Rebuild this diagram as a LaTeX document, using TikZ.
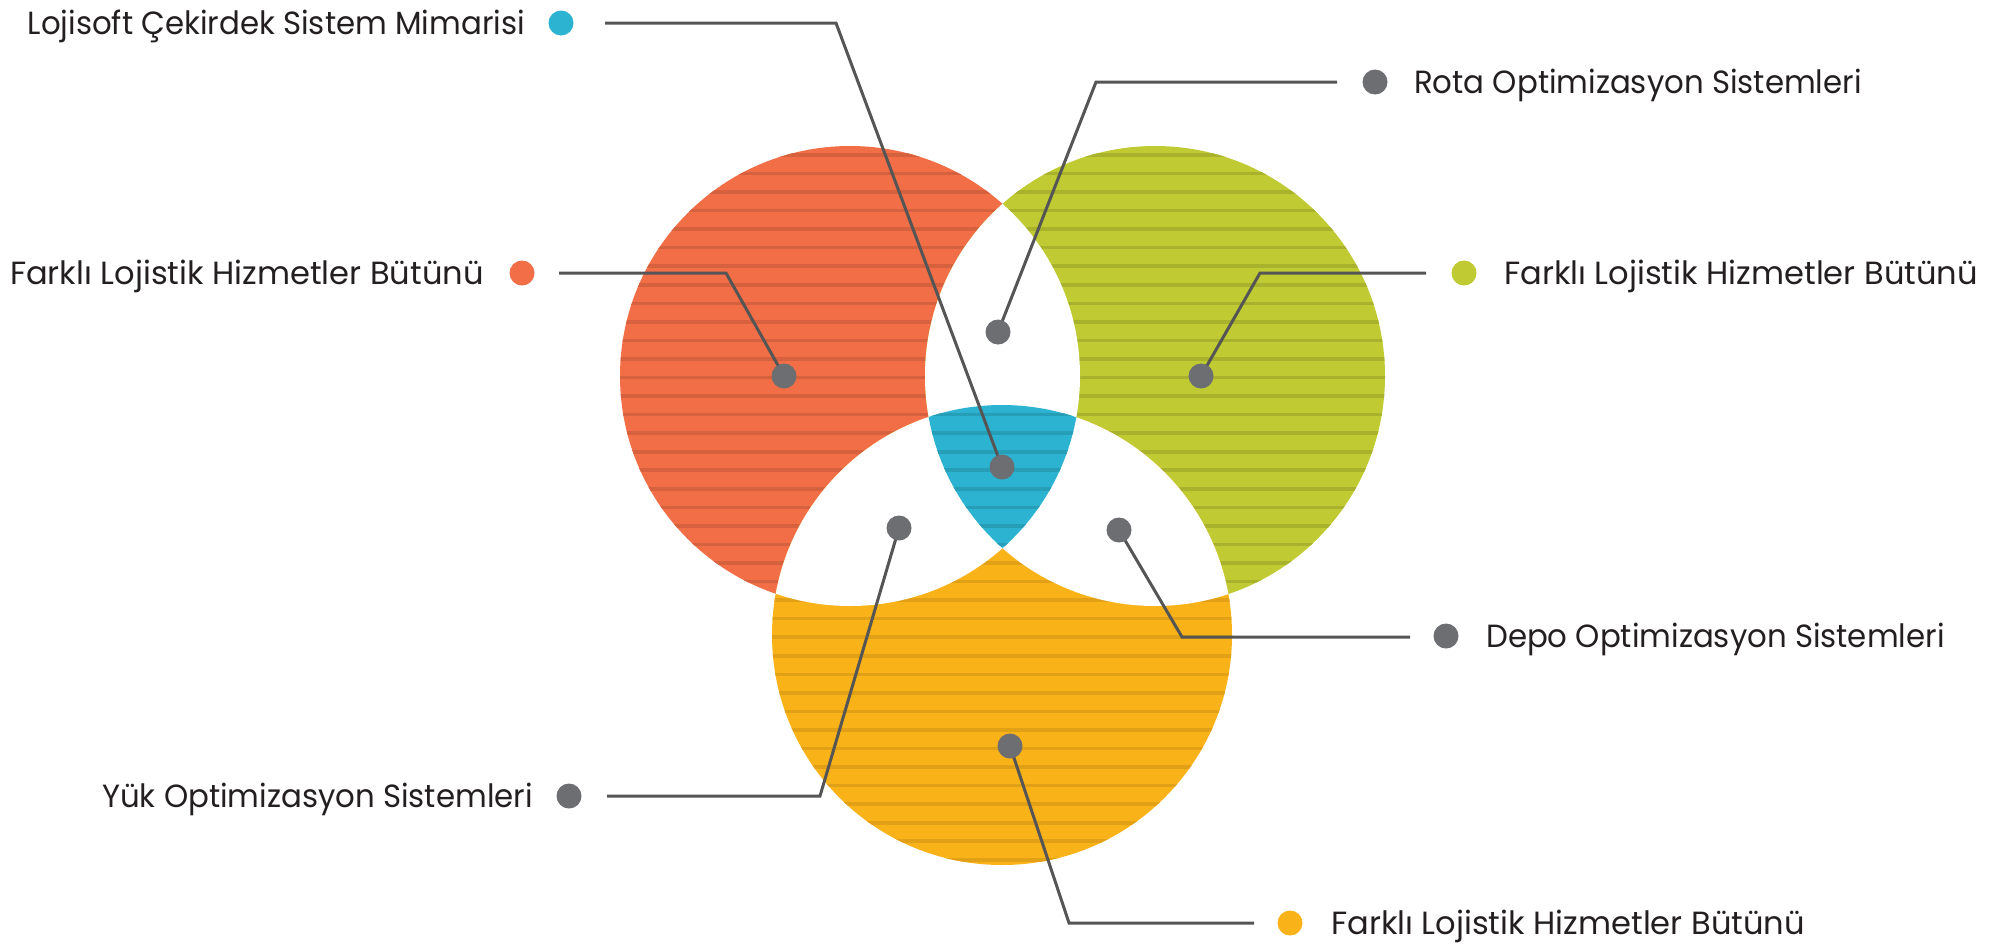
\documentclass[tikz,border=0pt]{standalone}
\usepackage{fontspec}
\setmainfont{Poppins}
\definecolor{cred}{HTML}{F26E47}
\definecolor{cgreen}{HTML}{C0CA33}
\definecolor{cyellow}{HTML}{FAB219}
\definecolor{cblue}{HTML}{2BB3D1}
\definecolor{cdot}{HTML}{6D6E72}
\definecolor{cline}{HTML}{555555}
\definecolor{ctext}{HTML}{231F20}
\pgfdeclarelayer{fg}
\pgfsetlayers{main,fg}
\newcommand\mystripes[1]{\foreach \k in {-25,...,20}{\fill[#1] (0,{563+18.55*\k-1.8}) rectangle (2000,{563+18.55*\k+1.8});}}
\newcommand\narrowtxt[1]{\scalebox{0.96}[1]{#1}}
\begin{document}
\begin{tikzpicture}[x=1pt,y=-1pt,
  dotnode/.style={circle,inner sep=0pt,minimum size=25pt,fill=cdot},
  conn/.style={draw=cline,line width=3pt,line join=miter},
  lbl/.style={inner sep=0pt,text=ctext,font=\fontsize{32.1}{36}\selectfont}]
\useasboundingbox (0,0) rectangle (2000,943);
\coordinate (R) at (850,376);
\coordinate (G) at (1155,376);
\coordinate (Y) at (1002,635);
% coloured circles with stripes
\fill[cred] (R) circle (230);
\begin{scope}\clip (R) circle (230); \mystripes{cred!88!black}\end{scope}
\fill[cgreen] (G) circle (230);
\begin{scope}\clip (G) circle (230); \mystripes{cgreen!88!black}\end{scope}
\fill[cyellow] (Y) circle (230);
\begin{scope}\clip (Y) circle (230); \mystripes{cyellow!90!black}\end{scope}
% pairwise overlaps white
\begin{scope}\clip (R) circle (230); \fill[white] (G) circle (230); \fill[white] (Y) circle (230);\end{scope}
\begin{scope}\clip (G) circle (230); \fill[white] (Y) circle (230);\end{scope}
% triple overlap blue
\begin{scope}\clip (R) circle (230); \clip (G) circle (230); \clip (Y) circle (230);
  \fill[cblue] (Y) circle (230); \mystripes{cblue!88!black}\end{scope}

\begin{pgfonlayer}{fg}
% inner dots
\node[dotnode] (dred) at (784,376) {};
\node[dotnode] (dgreen) at (1201,376) {};
\node[dotnode] (dtop) at (998,332) {};
\node[dotnode] (dblue) at (1002,467) {};
\node[dotnode] (dleft) at (899,528) {};
\node[dotnode] (dright) at (1119,530) {};
\node[dotnode] (dyellow) at (1010,746) {};
% label dots
\node[dotnode,fill=cblue] (k1) at (561,23) {};
\node[dotnode] (k2) at (1375,82) {};
\node[dotnode,fill=cred] (k3) at (522,273) {};
\node[dotnode,fill=cgreen] (k4) at (1464,273) {};
\node[dotnode] (k5) at (1446,636) {};
\node[dotnode] (k6) at (569,796) {};
\node[dotnode,fill=cyellow] (k7) at (1290,923) {};
\end{pgfonlayer}

% labels
\node[lbl,anchor=base east] (t1) at (525,34) {\narrowtxt{Lojisoft Çekirdek Sistem Mimarisi}};
\node[lbl,anchor=base west] (t2) at (1414,93) {\narrowtxt{Rota Optimizasyon Sistemleri}};
\node[lbl,anchor=base east] (t3) at (484,284) {Farklı Lojistik Hizmetler Bütünü};
\node[lbl,anchor=base west] (t4) at (1504,284) {Farklı Lojistik Hizmetler Bütünü};
\node[lbl,anchor=base west] (t5) at (1486,647) {\narrowtxt{Depo Optimizasyon Sistemleri}};
\node[lbl,anchor=base east] (t6) at (533,807) {\narrowtxt{Yük Optimizasyon Sistemleri}};
\node[lbl,anchor=base west] (t7) at (1331,934) {Farklı Lojistik Hizmetler Bütünü};

% connectors
\coordinate (s1) at (605,23);  \coordinate (c1) at (836,23);
\coordinate (s2) at (1337,82); \coordinate (c2) at (1096,82);
\coordinate (s3) at (559,273); \coordinate (c3) at (726,273);
\coordinate (s4) at (1426,273);\coordinate (c4) at (1260,273);
\coordinate (s5) at (1410,637);\coordinate (c5) at (1182,637);
\coordinate (s6) at (607,796); \coordinate (c6) at (820,796);
\coordinate (s7) at (1254,923);\coordinate (c7) at (1069,923);
\draw[conn] (s1) -- (c1) -- (dblue.center);
\draw[conn] (s2) -- (c2) -- (dtop.center);
\draw[conn] (s3) -- (c3) -- (dred.center);
\draw[conn] (s4) -- (c4) -- (dgreen.center);
\draw[conn] (s5) -- (c5) -- (dright.center);
\draw[conn] (s6) -- (c6) -- (dleft.center);
\draw[conn] (s7) -- (c7) -- (dyellow.center);
\end{tikzpicture}
\end{document}
